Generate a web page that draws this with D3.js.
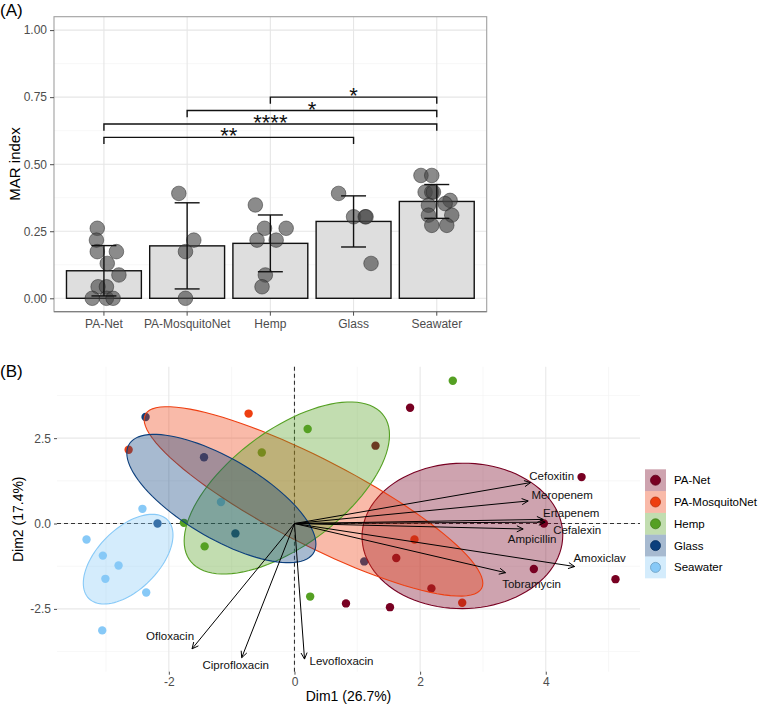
<!DOCTYPE html>
<html lang="en">
<head>
  <meta charset="UTF-8">
  <title>MAR index and PCA biplot</title>
  <script src="https://cdn.jsdelivr.net/npm/d3@7"></script>
  <style type="text/css">
    body {
      margin: 0;
      background: #fff;
    }

    svg {
      display: block;
      font-family: "Liberation Sans", Arial, sans-serif;
    }

    .tick text {
      fill: #4d4d4d;
      font-size: 12px;
    }

    .tick line {
      stroke: #4d4d4d;
    }
  </style>
</head>
<body>
  <script>
    // ---- panel A data ----
    var groups = ['PA-Net', 'PA-MosquitoNet', 'Hemp', 'Glass', 'Seawater'];
    var marValues = [
      [0.261, 0.217, 0.174, 0.174, 0.130, 0.087, 0.043, 0.043, 0, 0, 0],
      [0.391, 0.217, 0.174, 0],
      [0.348, 0.261, 0.261, 0.217, 0.217, 0.087, 0.043],
      [0.391, 0.304, 0.304, 0.304, 0.130],
      [0.458, 0.458, 0.396, 0.396, 0.396, 0.365, 0.353, 0.347, 0.310, 0.310, 0.272, 0.272]
    ];
    // jitter, in category steps
    var marJitter = [
      [-0.08, -0.09, -0.08, 0.15, 0.04, 0.18, -0.07, 0.03, -0.14, 0.03, 0.11],
      [-0.10, 0.08, -0.02, -0.02],
      [-0.18, -0.07, 0.19, -0.16, 0.07, -0.06, -0.10],
      [-0.18, 0.00, 0.14, 0.15, 0.21],
      [-0.19, -0.06, -0.14, -0.06, -0.04, 0.16, 0.10, -0.10, 0.18, -0.10, -0.06, 0.12]
    ];
    var comparisons = [['Hemp', 'Seawater'], ['PA-MosquitoNet', 'Seawater'], ['PA-Net', 'Seawater'], ['PA-Net', 'Glass']];
    var compY = [0.75, 0.70, 0.65, 0.60];
    var compLabels = ['*', '*', '****', '**'];
    var marTicks = [0, 0.25, 0.5, 0.75, 1];

    // ---- panel B data ----
    var pcaGroup = [0, 0, 0, 0, 0, 0, 0, 0, 0, 0,
      1, 1, 1, 1,
      2, 2, 2, 2, 2, 2,
      3, 3, 3, 3, 3,
      4, 4, 4, 4, 4, 4, 4, 4];
    var pcaDim1 = [1.84, 1.29, 4.57, 3.97, 1.62, 3.81, 5.11, 2.18, 0.82, 1.52,
      -2.64, -0.73, 1.91, 2.67,
      2.52, 0.21, -0.52, -1.76, -1.43, 0.25,
      -2.37, -1.44, -2.18, -0.94, 1.11,
      -1.17, -2.42, -3.31, -3.05, -2.80, -3.01, -2.36, -3.06];
    var pcaDim2 = [3.39, 2.28, 1.36, 0.00, -1.01, -1.33, -1.63, -1.90, -2.34, -2.45,
      2.16, 3.22, -0.47, -2.32,
      4.18, 2.77, 2.08, 0.02, -0.67, -2.14,
      3.12, 1.94, 0.00, -0.29, -1.11,
      0.63, 0.43, -0.47, -0.94, -1.23, -1.62, -2.02, -3.13];
    var varNames = ['Cefoxitin', 'Meropenem', 'Ertapenem', 'Cefalexin', 'Ampicillin',
      'Amoxiclav', 'Tobramycin', 'Levofloxacin', 'Ofloxacin', 'Ciprofloxacin'];
    var varDim1 = [3.76, 3.72, 3.96, 3.99, 3.64, 4.46, 3.36, 0.16, -1.63, -0.84];
    var varDim2 = [1.20, 0.66, 0.12, 0.04, -0.16, -1.26, -1.44, -3.97, -3.67, -3.93];
    var dim1Ticks = [-2, 0, 2, 4];
    var dim2Ticks = [-2.5, 0, 2.5];
    var ellipseLevel = 0.4;

    // layout / style (kept apart from the data)
    var colors = ['#780022', '#EE3F11', '#55A023', '#0C3F7C', '#87C9F7'];
    var labelNudge = [[21, -7], [34, -6], [28, -6], [32, 8], [9, 10],
      [25, -9], [26, 11], [37, 2], [-22, -13], [-6, 7]];

    var w = 760;
    var h = 712;
    var hy = function (s) { return s.replace('\u2212', '-'); };

    var svg = d3.select('body')
      .append('svg')
      .attr('width', w)
      .attr('height', h);

    // =================== (A) ===================
    var A = { left: 54, right: 486.7, top: 16.7, bottom: 311.7 };
    var xA = d3.scaleBand().domain(groups).range([A.left, A.right])
      .paddingInner(0.1).paddingOuter(0.15);
    var yA = d3.scaleLinear().domain([-0.05, 1.05]).range([A.bottom, A.top]);
    var cx = function (g) { return xA(g) + xA.bandwidth() / 2; };

    var gA = svg.append('g');

    gA.selectAll('.minor')
      .data([0.125, 0.375, 0.625, 0.875])
      .enter().append('line')
      .attr('x1', A.left).attr('x2', A.right)
      .attr('y1', yA).attr('y2', yA)
      .attr('stroke', '#f2f2f2').attr('stroke-width', 0.6);
    gA.selectAll('.major')
      .data(marTicks)
      .enter().append('line')
      .attr('x1', A.left).attr('x2', A.right)
      .attr('y1', yA).attr('y2', yA)
      .attr('stroke', '#e6e6e6').attr('stroke-width', 1.1);
    gA.selectAll('.vgrid')
      .data(groups)
      .enter().append('line')
      .attr('x1', cx).attr('x2', cx)
      .attr('y1', A.top).attr('y2', A.bottom)
      .attr('stroke', '#e6e6e6').attr('stroke-width', 1.1);

    var stats = marValues.map(function (v, i) {
      return { g: groups[i], mean: d3.mean(v), sd: d3.deviation(v) };
    });

    gA.selectAll('.bar')
      .data(stats)
      .enter().append('rect')
      .attr('x', function (d) { return xA(d.g); })
      .attr('width', xA.bandwidth())
      .attr('y', function (d) { return yA(d.mean); })
      .attr('height', function (d) { return yA(0) - yA(d.mean); })
      .attr('fill', '#dedede')
      .attr('stroke', '#111')
      .attr('stroke-width', 1.4);

    var pts = [];
    marValues.forEach(function (v, i) {
      v.forEach(function (val, j) {
        pts.push({ g: groups[i], v: val, j: marJitter[i][j] });
      });
    });
    gA.selectAll('.pt')
      .data(pts)
      .enter().append('circle')
      .attr('cx', function (d) { return cx(d.g) + d.j * xA.step(); })
      .attr('cy', function (d) { return yA(d.v); })
      .attr('r', 7.3)
      .attr('fill', '#444')
      .attr('fill-opacity', 0.62)
      .attr('stroke', '#222')
      .attr('stroke-opacity', 0.6)
      .attr('stroke-width', 0.8);

    var capW = xA.step() * 0.15;
    var eb = gA.selectAll('.eb').data(stats).enter().append('g');
    eb.append('line')
      .attr('x1', function (d) { return cx(d.g); })
      .attr('x2', function (d) { return cx(d.g); })
      .attr('y1', function (d) { return yA(d.mean - d.sd); })
      .attr('y2', function (d) { return yA(d.mean + d.sd); });
    eb.append('line')
      .attr('x1', function (d) { return cx(d.g) - capW; })
      .attr('x2', function (d) { return cx(d.g) + capW; })
      .attr('y1', function (d) { return yA(d.mean + d.sd); })
      .attr('y2', function (d) { return yA(d.mean + d.sd); });
    eb.append('line')
      .attr('x1', function (d) { return cx(d.g) - capW; })
      .attr('x2', function (d) { return cx(d.g) + capW; })
      .attr('y1', function (d) { return yA(d.mean - d.sd); })
      .attr('y2', function (d) { return yA(d.mean - d.sd); });
    eb.selectAll('line').attr('stroke', '#111').attr('stroke-width', 1.4);

    // significance brackets
    var tip = 0.025;
    comparisons.forEach(function (c, i) {
      var x1 = cx(c[0]), x2 = cx(c[1]), y = yA(compY[i]), yt = yA(compY[i] - tip);
      gA.append('path')
        .attr('d', 'M' + x1 + ',' + yt + 'L' + x1 + ',' + y + 'L' + x2 + ',' + y + 'L' + x2 + ',' + yt)
        .attr('fill', 'none')
        .attr('stroke', '#111')
        .attr('stroke-width', 1.4);
      gA.append('text')
        .attr('x', (x1 + x2) / 2)
        .attr('y', y + 6)
        .attr('text-anchor', 'middle')
        .attr('font-size', 22)
        .attr('fill', '#111')
        .text(compLabels[i]);
    });

    gA.append('rect')
      .attr('x', A.left).attr('y', A.top)
      .attr('width', A.right - A.left).attr('height', A.bottom - A.top)
      .attr('fill', 'none').attr('stroke', '#a0a0a0').attr('stroke-width', 1.1);
    gA.append('line')
      .attr('x1', A.left).attr('x2', A.right)
      .attr('y1', A.bottom).attr('y2', A.bottom)
      .attr('stroke', '#808080').attr('stroke-width', 1.3);

    gA.append('g')
      .attr('transform', 'translate(' + A.left + ',0)')
      .call(d3.axisLeft(yA).tickValues(marTicks).tickFormat(d3.format('.2f')).tickSize(4).tickPadding(3))
      .call(function (g) { g.select('.domain').remove(); });
    gA.append('g')
      .attr('transform', 'translate(0,' + A.bottom + ')')
      .call(d3.axisBottom(xA).tickSize(4).tickPadding(4))
      .call(function (g) { g.select('.domain').remove(); });

    gA.append('text')
      .attr('transform', 'translate(20,164) rotate(-90)')
      .attr('text-anchor', 'middle')
      .attr('font-size', 15)
      .text('MAR index');
    svg.append('text')
      .attr('x', 0).attr('y', 15.5)
      .attr('font-size', 17)
      .text('(A)');

    // =================== (B) ===================
    var B = { left: 57, right: 640, top: 366.8, bottom: 671.7 };
    var xB = d3.scaleLinear().domain([-3.78, 5.5]).range([B.left, B.right]);
    var yB = d3.scaleLinear().domain([-4.34, 4.59]).range([B.bottom, B.top]);
    var gB = svg.append('g');

    gB.selectAll('.vminor')
      .data([-3, -1, 1, 3, 5])
      .enter().append('line')
      .attr('x1', xB).attr('x2', xB)
      .attr('y1', B.top).attr('y2', B.bottom)
      .attr('stroke', '#f2f2f2').attr('stroke-width', 0.6);
    gB.selectAll('.hminor')
      .data([-3.75, -1.25, 1.25, 3.75])
      .enter().append('line')
      .attr('x1', B.left).attr('x2', B.right)
      .attr('y1', yB).attr('y2', yB)
      .attr('stroke', '#f2f2f2').attr('stroke-width', 0.6);
    gB.selectAll('.vmajor')
      .data(dim1Ticks)
      .enter().append('line')
      .attr('x1', xB).attr('x2', xB)
      .attr('y1', B.top).attr('y2', B.bottom)
      .attr('stroke', '#e8e8e8').attr('stroke-width', 1.1);
    gB.selectAll('.hmajor')
      .data(dim2Ticks)
      .enter().append('line')
      .attr('x1', B.left).attr('x2', B.right)
      .attr('y1', yB).attr('y2', yB)
      .attr('stroke', '#e8e8e8').attr('stroke-width', 1.1);

    // reference lines
    gB.append('line')
      .attr('x1', B.left).attr('x2', B.right)
      .attr('y1', yB(0)).attr('y2', yB(0));
    gB.append('line')
      .attr('x1', xB(0)).attr('x2', xB(0))
      .attr('y1', B.top).attr('y2', B.bottom);
    gB.selectAll('line:not([stroke])')
      .attr('stroke', '#333')
      .attr('stroke-width', 1.1)
      .attr('stroke-dasharray', '4,3');

    gB.selectAll('.ind')
      .data(pcaDim1)
      .enter().append('circle')
      .attr('cx', function (d) { return xB(d); })
      .attr('cy', function (d, i) { return yB(pcaDim2[i]); })
      .attr('r', 4.2)
      .attr('fill', function (d, i) { return colors[pcaGroup[i]]; });

    // normal-theory ellipses, like stat_ellipse(type = "norm")
    function ellipse(xs, ys, level) {
      var n = xs.length, mx = d3.mean(xs), my = d3.mean(ys);
      var sxy = d3.sum(xs, function (x, i) { return (x - mx) * (ys[i] - my); }) / (n - 1);
      var dfd = n - 1;
      var qf = dfd / 2 * (Math.pow(1 - level, -2 / dfd) - 1);
      var r = Math.sqrt(2 * qf);
      var r11 = d3.deviation(xs), r12 = sxy / r11;
      var r22 = Math.sqrt(d3.variance(ys) - r12 * r12);
      return d3.range(101).map(function (k) {
        var t = k / 100 * 2 * Math.PI;
        return [mx + r * Math.cos(t) * r11, my + r * (Math.cos(t) * r12 + Math.sin(t) * r22)];
      });
    }
    var line = d3.line()
      .x(function (d) { return xB(d[0]); })
      .y(function (d) { return yB(d[1]); });

    groups.forEach(function (g, gi) {
      var xs = pcaDim1.filter(function (d, i) { return pcaGroup[i] === gi; });
      var ys = pcaDim2.filter(function (d, i) { return pcaGroup[i] === gi; });
      gB.append('path')
        .attr('d', line(ellipse(xs, ys, ellipseLevel)) + 'Z')
        .attr('fill', colors[gi])
        .attr('fill-opacity', 0.36)
        .attr('stroke', colors[gi])
        .attr('stroke-width', 1.1);
    });

    // variable arrows
    var ox = xB(0), oy = yB(0);
    varNames.forEach(function (name, i) {
      var tx = xB(varDim1[i]), ty = yB(varDim2[i]);
      var a = Math.atan2(ty - oy, tx - ox), len = 7, spread = Math.PI / 7;
      gB.append('path')
        .attr('d', 'M' + ox + ',' + oy + 'L' + tx + ',' + ty +
          'M' + (tx - len * Math.cos(a - spread)) + ',' + (ty - len * Math.sin(a - spread)) +
          'L' + tx + ',' + ty +
          'L' + (tx - len * Math.cos(a + spread)) + ',' + (ty - len * Math.sin(a + spread)))
        .attr('fill', 'none')
        .attr('stroke', '#000')
        .attr('stroke-width', 1);
      gB.append('text')
        .attr('x', tx + labelNudge[i][0])
        .attr('y', ty + labelNudge[i][1])
        .attr('dy', '0.35em')
        .attr('text-anchor', 'middle')
        .attr('font-size', 11.5)
        .attr('fill', '#111')
        .text(name);
    });

    gB.append('g')
      .attr('transform', 'translate(' + B.left + ',0)')
      .call(d3.axisLeft(yB).tickValues(dim2Ticks).tickFormat(function (d) { return hy(d3.format('.1f')(d)); })
        .tickSize(3).tickPadding(3))
      .call(function (g) { g.select('.domain').remove(); });
    gB.append('g')
      .attr('transform', 'translate(0,' + B.bottom + ')')
      .call(d3.axisBottom(xB).tickValues(dim1Ticks).tickFormat(function (d) { return hy(d3.format('d')(d)); })
        .tickSize(3).tickPadding(3))
      .call(function (g) { g.select('.domain').remove(); });

    gB.append('text')
      .attr('x', (B.left + B.right) / 2).attr('y', 701)
      .attr('text-anchor', 'middle')
      .attr('font-size', 14)
      .text('Dim1 (26.7%)');
    gB.append('text')
      .attr('transform', 'translate(23,' + ((B.top + B.bottom) / 2) + ') rotate(-90)')
      .attr('text-anchor', 'middle')
      .attr('font-size', 14)
      .text('Dim2 (17.4%)');
    svg.append('text')
      .attr('x', 0).attr('y', 377)
      .attr('font-size', 17)
      .text('(B)');

    // legend
    var key = 21.8;
    var leg = svg.append('g').attr('transform', 'translate(645,469.3)');
    var item = leg.selectAll('.item')
      .data(groups)
      .enter().append('g')
      .attr('transform', function (d, i) { return 'translate(0,' + i * key + ')'; });
    item.append('rect')
      .attr('width', 21).attr('height', key)
      .attr('fill', function (d, i) { return colors[i]; })
      .attr('fill-opacity', 0.36);
    item.append('circle')
      .attr('cx', 10.5).attr('cy', key / 2).attr('r', 5)
      .attr('fill', function (d, i) { return colors[i]; })
      .attr('stroke', function (d, i) { return d3.color(colors[i]).darker(0.7); })
      .attr('stroke-width', 0.8);
    item.append('text')
      .attr('x', 29).attr('y', key / 2).attr('dy', '0.35em')
      .attr('font-size', 11.5)
      .text(function (d) { return d; });
  </script>
</body>
</html>
